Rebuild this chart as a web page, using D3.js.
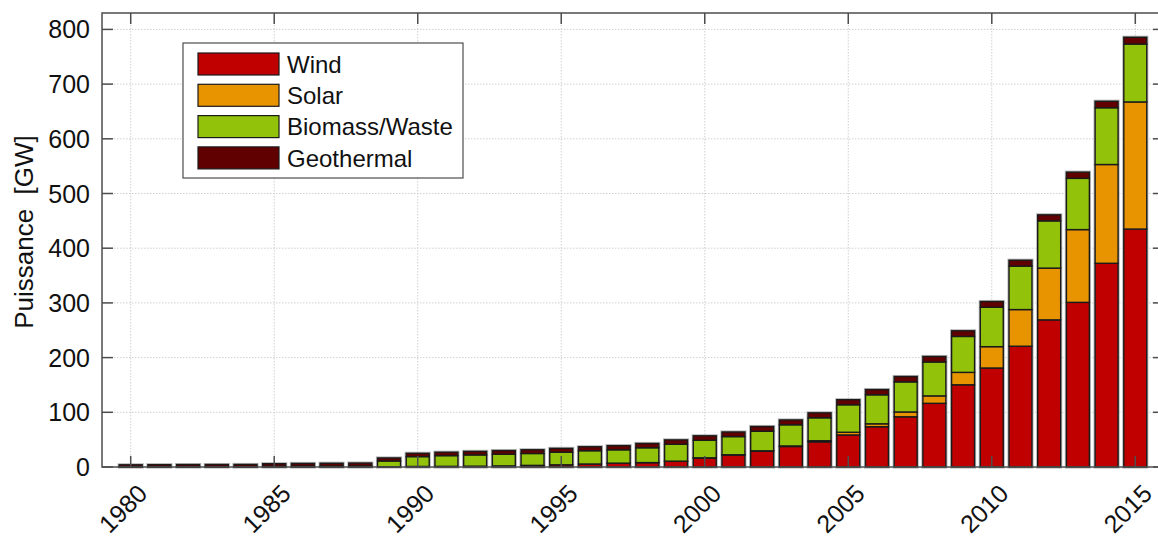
<!DOCTYPE html>
<html>
<head>
<meta charset="utf-8">
<script src="https://cdn.jsdelivr.net/npm/d3@7"></script>
<style>
  body { margin: 0; background: #fff; }
  svg { font-family: "Liberation Sans", Arial, Helvetica, sans-serif; }
  .grid line { stroke: #d0d0d0; stroke-width: 1; stroke-dasharray: 1.5,1.5; }
</style>
</head>
<body>
<div id="chart"></div>
<script>
// data (GW)
var years = d3.range(1980, 2016);
var wind = [0.01, 0.02, 0.03, 0.05, 0.1, 0.1, 0.15, 0.2, 0.3, 0.5,
            1, 1.2, 1.5, 2, 3, 4, 5.5, 7, 8, 10.5,
            16.5, 22, 29, 37.5, 46, 58.6, 73.6, 91.8, 116.4, 150.3,
            181, 220.8, 269, 301, 372.4, 435];
var solar = [0, 0, 0, 0, 0, 0, 0, 0, 0, 0,
             0, 0, 0, 0, 0, 0, 0, 0.05, 0.1, 0.2,
             0.3, 0.4, 0.6, 1, 2, 4.9, 5.4, 8.8, 13.6, 22.7,
             39, 67, 94.6, 133, 180.6, 232.4];
var biomass = [0.49, 0.58, 0.57, 0.55, 0.5, 1.2, 1.55, 1.6, 1.7, 10.5,
               18, 19.6, 20.6, 21.4, 21.7, 23, 24.3, 24.45, 27.1, 30.8,
               32, 33.2, 35.8, 38.7, 42, 50.3, 53, 55, 62, 65.7,
               72, 79.5, 86.4, 93.7, 103.8, 105.9];
var geothermal = [3.5, 3.6, 3.8, 3.9, 4.0, 4.7, 4.8, 5.0, 5.2, 5.5,
                  6.0, 6.2, 6.4, 6.6, 6.8, 7.0, 7.2, 7.5, 7.8, 8.0,
                  8.2, 8.4, 8.6, 8.8, 9.0, 9.2, 9.5, 9.8, 10.0, 10.3,
                  10.5, 10.7, 11.0, 11.3, 11.8, 12.3];
var seriesNames = ["Wind", "Solar", "Biomass/Waste", "Geothermal"];
var seriesColors = ["#c00000", "#e89400", "#92c30a", "#600000"];
var xTicks = [1980, 1985, 1990, 1995, 2000, 2005, 2010, 2015];
var yTicks = [0, 100, 200, 300, 400, 500, 600, 700, 800];

var W = 1158, H = 538;
var pLeft = 102, pRight = 1164, pTop = 13, pBottom = 467;

var table = years.map(function(yr, i) {
    return {year: yr, Wind: wind[i], Solar: solar[i], "Biomass/Waste": biomass[i], Geothermal: geothermal[i]};
});
var stacked = d3.stack().keys(seriesNames)(table);

var x = d3.scaleLinear().domain([1979, 2016]).range([pLeft, pRight]);
var y = d3.scaleLinear().domain([0, 830]).range([pBottom, pTop]);
var barW = 0.8 * (x(1981) - x(1980));

var svg = d3.select("#chart").append("svg")
    .attr("width", W)
    .attr("height", H);

// grid
var grid = svg.append("g").attr("class", "grid");
grid.selectAll(".gx").data(xTicks).enter().append("line")
    .attr("x1", function(d) { return x(d); }).attr("x2", function(d) { return x(d); })
    .attr("y1", pTop).attr("y2", pBottom);
grid.selectAll(".gy").data(yTicks.slice(1)).enter().append("line")
    .attr("x1", pLeft).attr("x2", pRight)
    .attr("y1", function(d) { return y(d); }).attr("y2", function(d) { return y(d); });

// light halo around each bar
svg.append("g").selectAll("rect").data(table).enter().append("rect")
    .attr("x", function(d) { return x(d.year) - barW / 2; })
    .attr("width", barW)
    .attr("y", function(d, i) { return y(stacked[3][i][1]); })
    .attr("height", function(d, i) { return y(0) - y(stacked[3][i][1]); })
    .attr("fill", "none")
    .attr("stroke", "#b8b8b8")
    .attr("stroke-width", 3.2);

// stacked bars
svg.append("g").selectAll("g").data(stacked).enter().append("g")
    .attr("fill", function(d, i) { return seriesColors[i]; })
    .selectAll("rect").data(function(d) { return d; }).enter().append("rect")
    .attr("x", function(d) { return x(d.data.year) - barW / 2; })
    .attr("width", barW)
    .attr("y", function(d) { return y(d[1]); })
    .attr("height", function(d) { return Math.max(0, y(d[0]) - y(d[1])); })
    .attr("stroke", "#1a1a1a")
    .attr("stroke-width", 1.4);

// axes box
var axisColor = "#4d4d4d";
svg.append("rect")
    .attr("x", pLeft).attr("y", pTop)
    .attr("width", pRight - pLeft).attr("height", pBottom - pTop)
    .attr("fill", "none").attr("stroke", axisColor).attr("stroke-width", 1.5);

var tickLen = 11;
var ticks = svg.append("g").attr("stroke", axisColor).attr("stroke-width", 1.5);
xTicks.forEach(function(t) {
    ticks.append("line").attr("x1", x(t)).attr("x2", x(t)).attr("y1", pBottom).attr("y2", pBottom - tickLen);
    ticks.append("line").attr("x1", x(t)).attr("x2", x(t)).attr("y1", pTop).attr("y2", pTop + tickLen);
});
yTicks.forEach(function(t) {
    ticks.append("line").attr("x1", pLeft).attr("x2", pLeft + tickLen).attr("y1", y(t)).attr("y2", y(t));
    ticks.append("line").attr("x1", pRight).attr("x2", pRight - tickLen).attr("y1", y(t)).attr("y2", y(t));
});

// tick labels
svg.append("g").selectAll("text").data(yTicks).enter().append("text")
    .attr("x", 90)
    .attr("y", function(d) { return y(d); })
    .attr("dy", "0.36em")
    .attr("text-anchor", "end")
    .attr("font-size", 25)
    .attr("fill", "#111")
    .text(function(d) { return d; });

svg.append("g").selectAll("text").data(xTicks).enter().append("text")
    .attr("transform", function(d) { return "translate(" + (x(d) + 12) + "," + (pBottom + 22) + ") rotate(-45)"; })
    .attr("dy", "0.35em")
    .attr("text-anchor", "end")
    .attr("font-size", 25)
    .attr("fill", "#111")
    .text(function(d) { return d; });

// y label
svg.append("text")
    .attr("transform", "translate(24,232) rotate(-90)")
    .attr("dy", "0.35em")
    .attr("text-anchor", "middle")
    .attr("font-size", 26)
    .attr("fill", "#111")
    .attr("xml:space", "preserve")
    .text("Puissance  [GW]");

// legend
var legend = svg.append("g");
legend.append("rect")
    .attr("x", 183).attr("y", 43).attr("width", 280).attr("height", 135)
    .attr("fill", "#fff").attr("stroke", axisColor).attr("stroke-width", 1.2);
var items = legend.selectAll("g").data(seriesNames).enter().append("g")
    .attr("transform", function(d, i) { return "translate(198," + (53 + i * 31.3) + ")"; });
items.append("rect")
    .attr("width", 81).attr("height", 22)
    .attr("fill", function(d, i) { return seriesColors[i]; })
    .attr("stroke", "#1a1a1a").attr("stroke-width", 1.2);
items.append("text")
    .attr("x", 89).attr("y", 11).attr("dy", "0.36em")
    .attr("font-size", 24)
    .attr("fill", "#111")
    .text(function(d) { return d; });
</script>
</body>
</html>
